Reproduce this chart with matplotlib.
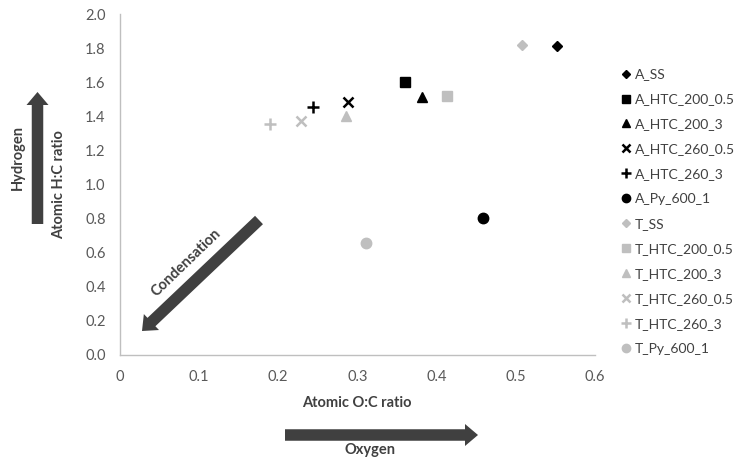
import matplotlib
matplotlib.use("Agg")
import matplotlib.pyplot as plt
from matplotlib import patches

plt.rcParams['font.family'] = ['Lato', 'DejaVu Sans']

# series
labels = ['A_SS', 'A_HTC_200_0.5', 'A_HTC_200_3', 'A_HTC_260_0.5', 'A_HTC_260_3', 'A_Py_600_1',
          'T_SS', 'T_HTC_200_0.5', 'T_HTC_200_3', 'T_HTC_260_0.5', 'T_HTC_260_3', 'T_Py_600_1']
oc_ratio = [0.552, 0.360, 0.382, 0.288, 0.244, 0.459,
            0.508, 0.413, 0.286, 0.229, 0.190, 0.311]
hc_ratio = [1.812, 1.601, 1.513, 1.484, 1.455, 0.804,
            1.818, 1.519, 1.402, 1.372, 1.355, 0.657]

x_ticks = [0, 0.1, 0.2, 0.3, 0.4, 0.5, 0.6]
x_ticklabels = ['0', '0.1', '0.2', '0.3', '0.4', '0.5', '0.6']
y_ticks = [0.0, 0.2, 0.4, 0.6, 0.8, 1.0, 1.2, 1.4, 1.6, 1.8, 2.0]

BLACK = '#000000'
GREY = '#bfbfbf'
DARK = '#404040'
TXT = '#595959'

styles = [('D', 5.5, 0), ('s', 7.0, 0), ('^', 7.5, 0), ('x', 7.5, 1.8), ('+', 8.5, 1.8), ('o', 7.5, 0)]
colors = [BLACK] * 6 + [GREY] * 6

W, H = 735, 458
fig = plt.figure(figsize=(W / 100, H / 100), dpi=100)
ax = fig.add_axes([119.5 / W, 1 - 355 / H, 475.5 / W, 341 / H])

for i in range(len(labels)):
    m, ms, mew = styles[i % 6]
    ax.plot(oc_ratio[i], hc_ratio[i], linestyle='none', marker=m, markersize=ms,
            color=colors[i], markeredgewidth=mew if mew else 1.0, label=labels[i])

ax.set_xlim(0, 0.6)
ax.set_ylim(0, 2.0)
ax.set_xticks(x_ticks)
ax.set_xticklabels(x_ticklabels)
ax.set_yticks(y_ticks)
ax.set_yticklabels(['%.1f' % v for v in y_ticks])
ax.tick_params(length=0, labelsize=10.5, labelcolor=TXT)
ax.tick_params(axis='x', pad=10.5)
ax.tick_params(axis='y', pad=10)
for s in ['top', 'right']:
    ax.spines[s].set_visible(False)
for s in ['left', 'bottom']:
    ax.spines[s].set_color(GREY)
    ax.spines[s].set_linewidth(1.0)

ax.set_xlabel('Atomic O:C ratio', fontsize=10.5, fontweight='bold', color=DARK)
ax.set_ylabel('Atomic H:C ratio', fontsize=10.5, fontweight='bold', color=DARK)
ax.xaxis.set_label_coords(0.5, -(396 - 355) / 341)
ax.yaxis.set_label_coords(-(119.5 - 66) / 475.5, 0.5)

fig.legend(loc='center left', bbox_to_anchor=(613 / W, 1 - 211.5 / H), frameon=False,
           fontsize=10, labelcolor=DARK, handlelength=0.8, handletextpad=0.3,
           labelspacing=0.93, borderpad=0, markerscale=0.8)

# annotation arrows, positions in pixels from the top-left corner
def px(x, y):
    return x / 100, (H - y) / 100

def arrow(x0, y0, x1, y1):
    sx, sy = px(x0, y0)
    ex, ey = px(x1, y1)
    a = patches.FancyArrow(sx, sy, ex - sx, ey - sy, width=0.115, head_width=0.22,
                           head_length=0.13, length_includes_head=True,
                           facecolor=DARK, edgecolor='none', transform=fig.dpi_scale_trans)
    fig.add_artist(a)

arrow(37.5, 224, 37.5, 92)
arrow(285, 435, 478, 435)
arrow(259, 220, 142, 331)

fig.text(18 / W, 1 - 158 / H, 'Hydrogen', rotation=90, ha='center', va='center',
         fontsize=10.5, fontweight='bold', color=DARK)
fig.text(370 / W, 1 - 450 / H, 'Oxygen', ha='center', va='center',
         fontsize=10.5, fontweight='bold', color=DARK)
fig.text(186 / W, 1 - 263 / H, 'Condensation', rotation=44, ha='center', va='center',
         rotation_mode='anchor', fontsize=10.5, fontweight='bold', color=DARK)

fig.savefig('out.png', dpi=100)
